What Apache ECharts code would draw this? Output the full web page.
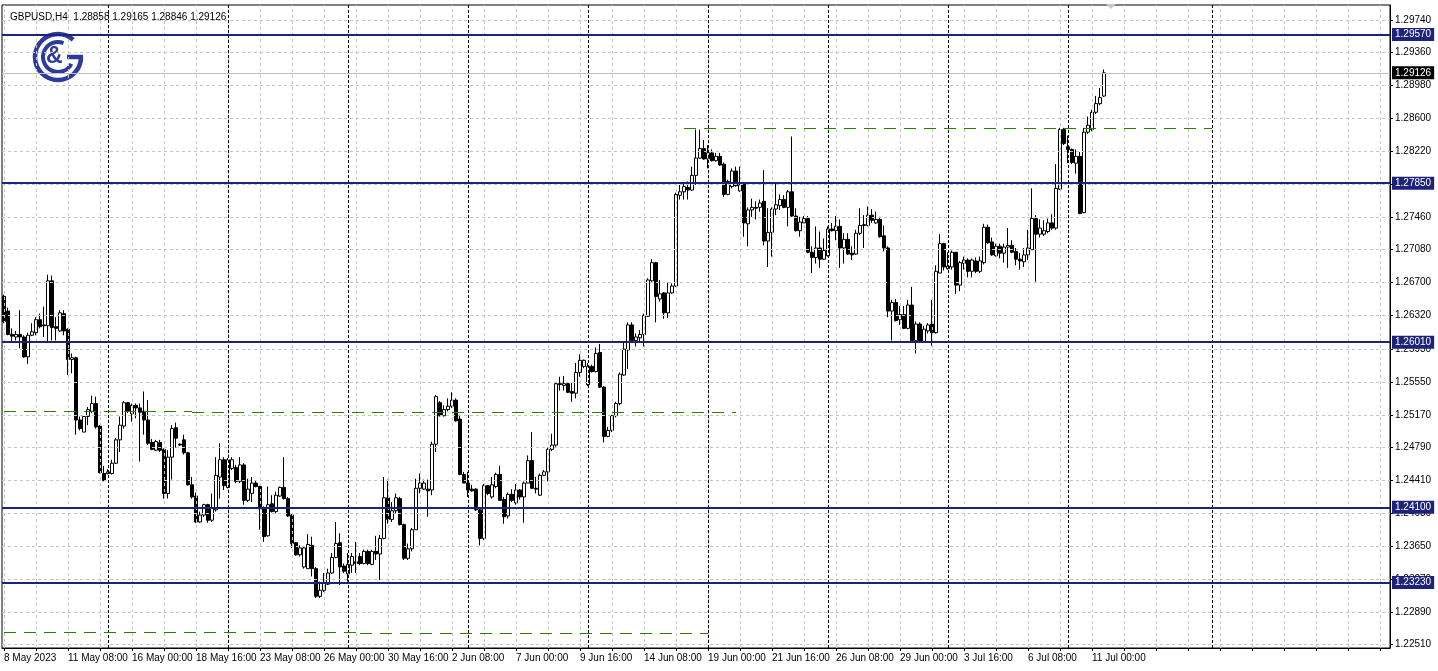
<!DOCTYPE html>
<html>
<head>
<meta charset="utf-8">
<script src="https://cdn.jsdelivr.net/npm/echarts@6/dist/echarts.min.js"></script>
<style>
html,body{margin:0;padding:0;background:#fff;}
#chart{width:1438px;height:671px;}
</style>
</head>
<body>
<div id="chart"></div>
<script>
// ---- DATA (GBPUSD H4, 8 May 2023 16:00 .. 11 Jul 2023 12:00) ----
const openP = [
1.2654,1.2637,1.2610,1.2607,1.2610,1.2607,1.2584,1.2609,1.2612,1.2627,
1.2621,1.2620,1.2672,1.2619,1.2614,1.2634,1.2616,1.2581,1.2583,1.2511,
1.2497,1.2515,1.2521,1.2530,1.2504,1.2449,1.2449,1.2449,1.2461,1.2488,
1.2504,1.2531,1.2518,1.2528,1.2525,1.2521,1.2511,1.2485,1.2476,1.2485,
1.2477,1.2426,1.2468,1.2502,1.2483,1.2488,1.2473,1.2436,1.2423,1.2393,
1.2401,1.2413,1.2395,1.2407,1.2445,1.2465,1.2433,1.2455,1.2456,1.2440,
1.2459,1.2418,1.2426,1.2438,1.2434,1.2409,1.2377,1.2414,1.2405,1.2423,
1.2433,1.2420,1.2401,1.2369,1.2355,1.2341,1.2339,1.2366,1.2339,1.2307,
1.2314,1.2321,1.2334,1.2352,1.2369,1.2342,1.2333,1.2343,1.2347,1.2353,
1.2345,1.2359,1.2344,1.2359,1.2356,1.2374,1.2421,1.2396,1.2406,1.2420,
1.2390,1.2351,1.2362,1.2384,1.2432,1.2431,1.2431,1.2430,1.2483,1.2531,
1.2516,1.2523,1.2527,1.2534,1.2512,1.2448,1.2438,1.2431,1.2431,1.2407,
1.2374,1.2435,1.2422,1.2434,1.2448,1.2419,1.2400,1.2425,1.2415,1.2430,
1.2422,1.2438,1.2464,1.2432,1.2424,1.2447,1.2451,1.2477,1.2482,1.2553,
1.2551,1.2553,1.2544,1.2542,1.2566,1.2573,1.2552,1.2573,1.2567,1.2589,
1.2549,1.2492,1.2499,1.2516,1.2530,1.2563,1.2592,1.2621,1.2603,1.2606,
1.2610,1.2631,1.2672,1.2693,1.2651,1.2658,1.2635,1.2658,1.2666,1.2771,
1.2775,1.2780,1.2777,1.2794,1.2814,1.2825,1.2813,1.2820,1.2811,1.2816,
1.2807,1.2772,1.2781,1.2799,1.2776,1.2784,1.2738,1.2754,1.2757,1.2757,
1.2764,1.2718,1.2728,1.2755,1.2759,1.2766,1.2757,1.2775,1.2747,1.2730,
1.2739,1.2744,1.2705,1.2699,1.2710,1.2697,1.2701,1.2732,1.2730,1.2735,
1.2710,1.2720,1.2704,1.2703,1.2727,1.2736,1.2736,1.2748,1.2739,1.2743,
1.2724,1.2710,1.2637,1.2647,1.2627,1.2633,1.2617,1.2644,1.2603,1.2622,
1.2602,1.2614,1.2622,1.2612,1.2681,1.2715,1.2686,1.2688,1.2705,1.2667,
1.2692,1.2696,1.2683,1.2695,1.2683,1.2693,1.2734,1.2717,1.2701,1.2712,
1.2704,1.2711,1.2713,1.2706,1.2697,1.2694,1.2702,1.2708,1.2744,1.2726,
1.2726,1.2729,1.2739,1.2733,1.2778,1.2847,1.2827,1.2824,1.2808,1.2816,
1.2751,1.2844,1.2847,1.2867,1.2877,1.28858
];
const closeP = [
1.2625,1.2610,1.2608,1.2610,1.2607,1.2584,1.2609,1.2613,1.2627,1.2619,
1.2620,1.2672,1.2618,1.2617,1.2635,1.2614,1.2581,1.2583,1.2511,1.2501,
1.2515,1.2523,1.2530,1.2503,1.2450,1.2441,1.2451,1.2461,1.2488,1.2505,
1.2531,1.2521,1.2528,1.2525,1.2520,1.2511,1.2484,1.2477,1.2486,1.2476,
1.2426,1.2468,1.2501,1.2490,1.2482,1.2473,1.2436,1.2422,1.2393,1.2401,
1.2413,1.2395,1.2409,1.2447,1.2465,1.2435,1.2465,1.2465,1.2440,1.2459,
1.2418,1.2431,1.2438,1.2434,1.2408,1.2376,1.2413,1.2405,1.2424,1.2433,
1.2420,1.2400,1.2368,1.2355,1.2363,1.2363,1.2367,1.2339,1.2307,1.2314,
1.2322,1.2334,1.2352,1.2368,1.2341,1.2336,1.2344,1.2353,1.2345,1.2345,
1.2359,1.2345,1.2359,1.2356,1.2374,1.2421,1.2396,1.2406,1.2421,1.2390,
1.2351,1.2362,1.2384,1.2432,1.2438,1.2438,1.2429,1.2483,1.2538,1.2516,
1.2523,1.2527,1.2534,1.2510,1.2448,1.2438,1.2430,1.2429,1.2407,1.2374,
1.2435,1.2426,1.2436,1.2448,1.2418,1.2399,1.2425,1.2418,1.2430,1.2422,
1.2438,1.2464,1.2432,1.2431,1.2447,1.2451,1.2477,1.2482,1.2553,1.2552,
1.2553,1.2543,1.2542,1.2566,1.2580,1.2580,1.2573,1.2567,1.2588,1.2549,
1.2492,1.2499,1.2516,1.2530,1.2564,1.2593,1.2621,1.2603,1.2607,1.2610,
1.2632,1.2673,1.2693,1.2654,1.2657,1.2635,1.2658,1.2666,1.2772,1.2775,
1.2781,1.2777,1.2794,1.2814,1.2825,1.2813,1.2820,1.2811,1.2816,1.2806,
1.2772,1.2787,1.2799,1.2782,1.2783,1.2739,1.2754,1.2757,1.2756,1.2762,
1.2718,1.2728,1.2755,1.2760,1.2766,1.2757,1.2775,1.2747,1.2730,1.2740,
1.2744,1.2705,1.2699,1.2710,1.2697,1.2707,1.2732,1.2730,1.2735,1.2710,
1.2720,1.2703,1.2702,1.2727,1.2736,1.2737,1.2748,1.2742,1.2743,1.2723,
1.2710,1.2637,1.2647,1.2626,1.2633,1.2617,1.2644,1.2603,1.2622,1.2602,
1.2616,1.2621,1.2612,1.2683,1.2715,1.2688,1.2689,1.2705,1.2667,1.2693,
1.2696,1.2683,1.2696,1.2683,1.2695,1.2734,1.2716,1.2702,1.2712,1.2704,
1.2711,1.2713,1.2705,1.2697,1.2695,1.2702,1.2710,1.2744,1.2726,1.2733,
1.2730,1.2739,1.2733,1.2779,1.2847,1.2831,1.2824,1.2809,1.2816,1.2750,
1.2844,1.2852,1.2867,1.2877,1.2884,1.29126
];
const lowP = [
1.2623,1.2609,1.2601,1.2603,1.2594,1.2583,1.2576,1.2608,1.2609,1.2617,
1.2607,1.2600,1.2603,1.2603,1.2613,1.2609,1.2563,1.2565,1.2494,1.2499,
1.2497,1.2505,1.2519,1.2501,1.2449,1.2440,1.2448,1.2448,1.2460,1.2474,
1.2501,1.2519,1.2509,1.2513,1.2463,1.2494,1.2482,1.2476,1.2475,1.2474,
1.2420,1.2420,1.2442,1.2479,1.2481,1.2471,1.2435,1.2420,1.2392,1.2392,
1.2399,1.2392,1.2393,1.2405,1.2420,1.2430,1.2432,1.2453,1.2438,1.2438,
1.2413,1.2416,1.2416,1.2433,1.2384,1.2370,1.2376,1.2404,1.2403,1.2422,
1.2419,1.2399,1.2363,1.2354,1.2353,1.2339,1.2339,1.2330,1.2305,1.2305,
1.2312,1.2320,1.2333,1.2351,1.2320,1.2334,1.2324,1.2334,1.2334,1.2343,
1.2344,1.2343,1.2343,1.2349,1.2326,1.2373,1.2391,1.2393,1.2403,1.2389,
1.2349,1.2349,1.2359,1.2384,1.2426,1.2430,1.2399,1.2424,1.2474,1.2515,
1.2515,1.2521,1.2525,1.2509,1.2447,1.2438,1.2422,1.2428,1.2406,1.2366,
1.2372,1.2424,1.2420,1.2432,1.2418,1.2391,1.2397,1.2416,1.2413,1.2419,
1.2392,1.2438,1.2431,1.2426,1.2423,1.2446,1.2440,1.2475,1.2480,1.2545,
1.2545,1.2542,1.2532,1.2536,1.2561,1.2571,1.2550,1.2566,1.2566,1.2548,
1.2485,1.2491,1.2497,1.2514,1.2528,1.2562,1.2570,1.2600,1.2596,1.2602,
1.2596,1.2630,1.2671,1.2624,1.2648,1.2628,1.2629,1.2657,1.2665,1.2766,
1.2766,1.2766,1.2776,1.2783,1.2813,1.2812,1.2802,1.2810,1.2810,1.2805,
1.2769,1.2771,1.2779,1.2781,1.2775,1.2723,1.2712,1.2746,1.2743,1.2752,
1.2713,1.2688,1.2700,1.2748,1.2754,1.2756,1.2735,1.2746,1.2729,1.2723,
1.2739,1.2704,1.2681,1.2692,1.2687,1.2696,1.2700,1.2729,1.2719,1.2687,
1.2692,1.2702,1.2696,1.2702,1.2725,1.2710,1.2735,1.2739,1.2738,1.2722,
1.2706,1.2630,1.2603,1.2625,1.2621,1.2616,1.2616,1.2603,1.2588,1.2600,
1.2600,1.2611,1.2597,1.2611,1.2681,1.2684,1.2685,1.2685,1.2657,1.2660,
1.2685,1.2676,1.2676,1.2681,1.2681,1.2691,1.2715,1.2701,1.2700,1.2698,
1.2693,1.2687,1.2704,1.2690,1.2685,1.2688,1.2696,1.2708,1.2671,1.2722,
1.2724,1.2727,1.2731,1.2731,1.2777,1.2829,1.2808,1.2807,1.2796,1.2749,
1.2750,1.2842,1.2845,1.2865,1.2875,1.28846
];
const highP = [
1.2656,1.2641,1.2617,1.2614,1.2638,1.2609,1.2612,1.2623,1.2630,1.2634,
1.2642,1.2679,1.2678,1.2630,1.2638,1.2638,1.2617,1.2588,1.2584,1.2515,
1.2515,1.2526,1.2539,1.2538,1.2505,1.2458,1.2454,1.2465,1.2490,1.2515,
1.2533,1.2532,1.2530,1.2530,1.2530,1.2544,1.2534,1.2489,1.2488,1.2488,
1.2478,1.2476,1.2505,1.2508,1.2484,1.2494,1.2474,1.2445,1.2427,1.2405,
1.2414,1.2414,1.2426,1.2468,1.2484,1.2468,1.2467,1.2468,1.2459,1.2468,
1.2461,1.2443,1.2445,1.2441,1.2435,1.2411,1.2434,1.2424,1.2428,1.2434,
1.2468,1.2422,1.2403,1.2370,1.2366,1.2364,1.2379,1.2376,1.2341,1.2324,
1.2334,1.2339,1.2357,1.2393,1.2380,1.2345,1.2357,1.2357,1.2370,1.2357,
1.2361,1.2361,1.2361,1.2377,1.2378,1.2445,1.2442,1.2416,1.2426,1.2422,
1.2391,1.2368,1.2386,1.2443,1.2449,1.2442,1.2442,1.2486,1.2540,1.2533,
1.2528,1.2536,1.2543,1.2536,1.2517,1.2451,1.2451,1.2436,1.2432,1.2409,
1.2437,1.2436,1.2445,1.2450,1.2458,1.2422,1.2427,1.2431,1.2437,1.2431,
1.2440,1.2470,1.2497,1.2445,1.2449,1.2453,1.2479,1.2495,1.2555,1.2561,
1.2562,1.2555,1.2554,1.2577,1.2587,1.2581,1.2577,1.2575,1.2595,1.2599,
1.2550,1.2503,1.2517,1.2532,1.2566,1.2602,1.2624,1.2624,1.2611,1.2615,
1.2634,1.2675,1.2697,1.2694,1.2673,1.2659,1.2670,1.2669,1.2774,1.2783,
1.2786,1.2787,1.2804,1.2847,1.2847,1.2835,1.2829,1.2824,1.2820,1.2820,
1.2809,1.2789,1.2802,1.2804,1.2804,1.2786,1.2757,1.2767,1.2764,1.2766,
1.2800,1.2756,1.2757,1.2784,1.2772,1.2771,1.2777,1.2839,1.2756,1.2746,
1.2747,1.2747,1.2712,1.2735,1.2729,1.2721,1.2735,1.2739,1.2747,1.2743,
1.2727,1.2727,1.2712,1.2731,1.2756,1.2748,1.2758,1.2755,1.2752,1.2746,
1.2736,1.2712,1.2650,1.2651,1.2643,1.2643,1.2650,1.2665,1.2625,1.2624,
1.2620,1.2623,1.2650,1.2690,1.2726,1.2716,1.2705,1.2707,1.2705,1.2695,
1.2700,1.2698,1.2698,1.2699,1.2700,1.2738,1.2737,1.2722,1.2715,1.2715,
1.2715,1.2733,1.2719,1.2710,1.2704,1.2710,1.2731,1.2779,1.2748,1.2743,
1.2742,1.2744,1.2749,1.2807,1.2849,1.2849,1.2840,1.2825,1.2824,1.2821,
1.2849,1.2862,1.2870,1.2886,1.2895,1.29165
];
// time-axis tick labels, one every 16 bars (from bar 0)
const timeTickLabels = ['8 May 2023','11 May 08:00','16 May 00:00','18 May 16:00','23 May 08:00','26 May 00:00',
  '30 May 16:00','2 Jun 08:00','7 Jun 00:00','9 Jun 16:00','14 Jun 08:00','19 Jun 00:00',
  '21 Jun 16:00','26 Jun 08:00','29 Jun 00:00','3 Jul 16:00','6 Jul 08:00','11 Jul 00:00'];
const barsPerLabel = 16;
// price-axis tick labels
const priceTicks = [1.29740,1.29360,1.28980,1.28600,1.28220,1.27840,1.27460,1.27080,1.26700,1.26320,
  1.25930,1.25550,1.25170,1.24790,1.24410,1.24030,1.23650,1.23270,1.22890,1.22510];
// support / resistance levels
const levels = [1.29570, 1.27850, 1.26010, 1.24100, 1.23230];
const lastPrice = 1.29126;
const titleText = 'GBPUSD,H4  1.28858 1.29165 1.28846 1.29126';
// weekly separators (bar index of Monday 00:00) and dashed trend levels
const weekStarts = [26, 56, 86, 116, 146, 176, 206, 236, 266, 302];
const dashedSegments = [
  {from: 0, to: 47, price: 1.2521},
  {from: 47, to: 183, price: 1.2520},
  {from: 0, to: 89, price: 1.2265},
  {from: 89, to: 176, price: 1.2264},
  {from: 170, to: 302, price: 1.2848}
];
const totalSlots = 347; // bars + right shift space

// ---- CHART ----
const FONT = 'Liberation Sans';
const categories = Array.from({length: totalSlots}, (_, i) => String(i));
const candles = openP.map((o, i) => [o, closeP[i], lowP[i], highP[i]]);
const NAVY = '#1c2378';
const GREEN = '#2f7d00';
const LOGO = '#2e3a9c';

const vGrid = [];
for (let i = 0; i < totalSlots; i += 8) vGrid.push({xAxis: i});
const hGrid = priceTicks.map(v => ({yAxis: v}));

const chart = echarts.init(document.getElementById('chart'), null, {renderer: 'canvas'});
chart.setOption({
  animation: false,
  backgroundColor: '#ffffff',
  title: {
    text: titleText, left: 5, top: 7,
    textStyle: {fontFamily: FONT, fontSize: 10, fontWeight: 'normal', color: '#000'}
  },
  grid: {left: 2, right: 48, top: 5, bottom: 23, show: true, borderColor: '#000', borderWidth: 1, backgroundColor: 'transparent'},
  xAxis: {
    type: 'category', data: categories, boundaryGap: true,
    axisLine: {show: true, lineStyle: {color: '#000', width: 1}},
    axisTick: {show: true, alignWithLabel: true, interval: 7, length: 3, lineStyle: {color: '#000'}},
    axisLabel: {
      interval: barsPerLabel - 1, align: 'left', margin: 5, color: '#000',
      fontFamily: FONT, fontSize: 10,
      formatter: (v, idx) => (idx % barsPerLabel === 0 && timeTickLabels[idx / barsPerLabel]) ? timeTickLabels[idx / barsPerLabel] : ''
    },
    splitLine: {show: false}
  },
  yAxis: {
    type: 'value', position: 'right', min: 1.22472, max: 1.29911, scale: true,
    axisLine: {show: true, lineStyle: {color: '#000', width: 1}},
    axisTick: {show: true, length: 3, customValues: priceTicks, lineStyle: {color: '#000'}},
    axisLabel: {show: true, customValues: priceTicks, margin: 5, color: '#000', fontFamily: FONT, fontSize: 10,
      formatter: v => v.toFixed(5)},
    splitLine: {show: false}
  },
  series: [
    {
      name: 'gridlines', type: 'line', data: [], silent: true, z: 1,
      markLine: {
        silent: true, symbol: 'none', animation: false, precision: 6,
        label: {show: false},
        lineStyle: {color: '#c4c4c4', type: [3, 3], width: 1},
        data: vGrid.concat(hGrid)
      }
    },
    {
      name: 'separators', type: 'line', data: [], silent: true, z: 2,
      markLine: {
        silent: true, symbol: 'none', animation: false,
        label: {show: false},
        lineStyle: {color: '#000', type: [3, 2], width: 1},
        data: weekStarts.map(i => ({xAxis: i}))
      }
    },
    {
      name: 'GBPUSD', type: 'candlestick', data: candles, z: 3, barWidth: 3,
      itemStyle: {color: '#ffffff', color0: '#000000', borderColor: '#000000', borderColor0: '#000000', borderColorDoji: '#000000', borderWidth: 1},
      emphasis: {disabled: true}
    },
    {
      name: 'lastprice', type: 'line', data: [], silent: true, z: 4,
      markLine: {
        silent: true, symbol: 'none', animation: false, precision: 6,
        lineStyle: {color: '#c0c0c0', type: 'solid', width: 1},
        label: {show: true, position: 'end', distance: 2, formatter: () => lastPrice.toFixed(5),
          backgroundColor: '#000', color: '#fff', padding: [2, 3, 1, 3], fontFamily: FONT, fontSize: 10},
        data: [{yAxis: lastPrice}]
      }
    },
    {
      name: 'trendlevels', type: 'line', data: [], silent: true, z: 5,
      markLine: {
        silent: true, symbol: 'none', animation: false, precision: 6,
        label: {show: false},
        lineStyle: {color: GREEN, type: [12, 8], width: 1},
        data: dashedSegments.map(s => [{coord: [s.from, s.price]}, {coord: [s.to, s.price]}])
      }
    },
    {
      name: 'levels', type: 'line', data: [], silent: true, z: 6,
      markLine: {
        silent: true, symbol: 'none', animation: false, precision: 6,
        lineStyle: {color: NAVY, type: 'solid', width: 2},
        label: {show: true, position: 'end', distance: 2, formatter: p => Number(p.value).toFixed(5),
          backgroundColor: NAVY, color: '#fff', padding: [2, 3, 1, 3], fontFamily: FONT, fontSize: 10},
        data: levels.map(v => ({yAxis: v}))
      }
    }
  ],
  graphic: [
    {type: 'arc', shape: {cx: 58, cy: 57, r: 23, startAngle: 0, endAngle: Math.PI * 1.73, clockwise: true},
      style: {stroke: LOGO, lineWidth: 4.5, fill: null}, silent: true},
    {type: 'arc', shape: {cx: 58, cy: 57, r: 15, startAngle: Math.PI * 0.15, endAngle: Math.PI * 1.62, clockwise: true},
      style: {stroke: LOGO, lineWidth: 4, fill: null}, silent: true},
    {type: 'line', shape: {x1: 67, y1: 57, x2: 83, y2: 57}, style: {stroke: LOGO, lineWidth: 4.5}, silent: true},
    {type: 'text', left: 46, top: 45, style: {text: '&', fill: LOGO, font: 'bold 23px "Liberation Sans"'}, silent: true},
    {type: 'polygon', shape: {points: [[1106, 4], [1116, 4], [1111, 9]]}, style: {fill: '#c8c8c8'}, silent: true}
  ]
});
</script>
</body>
</html>
